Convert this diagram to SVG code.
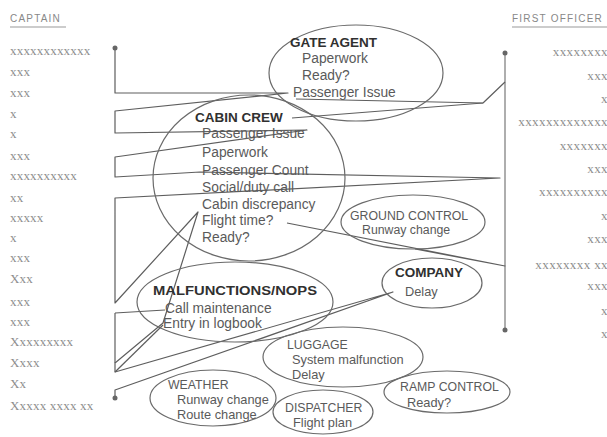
<svg xmlns="http://www.w3.org/2000/svg" width="607" height="437" viewBox="0 0 607 437">
<style>
.bg{fill:#fff}
.ell{fill:none;stroke:#6a6a6a;stroke-width:1.2}
.con{fill:none;stroke:#5e5e5e;stroke-width:1.2;stroke-linejoin:round}
.fo{fill:none;stroke:#9a9a9a;stroke-width:1.6}
.dot{fill:#666}
.hd{font-family:"Liberation Sans",Arial,sans-serif;font-weight:bold;font-size:13.5px;fill:#303030}
.hl{font-family:"Liberation Sans",Arial,sans-serif;font-size:12.3px;fill:#5a5a5a}
.it{font-family:"Liberation Sans",Arial,sans-serif;font-size:13.8px;fill:#5a5a5a}
.is{font-family:"Liberation Sans",Arial,sans-serif;font-size:12.8px;fill:#5a5a5a}
.col{font-family:"Liberation Sans",Arial,sans-serif;font-size:10px;letter-spacing:1.2px;fill:#888}
.xs{font-family:"Liberation Serif","Times New Roman",serif;font-size:13px;letter-spacing:0.2px;fill:#8e8e8e}
.xr{font-family:"Liberation Serif","Times New Roman",serif;font-size:13px;letter-spacing:0.4px;fill:#8e8e8e;text-anchor:end}
.ul{stroke:#999;stroke-width:1}
</style>
<rect class="bg" x="0" y="0" width="607" height="437"/>

<g id="captain-column">
<text class="col" x="10" y="22">CAPTAIN</text>
<line class="ul" x1="10" y1="27" x2="66" y2="27"/>
<text class="xs" x="10" y="55">xxxxxxxxxxxx</text>
<text class="xs" x="10" y="76">xxx</text>
<text class="xs" x="10" y="97">xxx</text>
<text class="xs" x="10" y="118">x</text>
<text class="xs" x="10" y="138">x</text>
<text class="xs" x="10" y="160">xxx</text>
<text class="xs" x="10" y="180">xxxxxxxxxx</text>
<text class="xs" x="10" y="202">xx</text>
<text class="xs" x="10" y="222">xxxxx</text>
<text class="xs" x="10" y="242">x</text>
<text class="xs" x="10" y="262">xxx</text>
<text class="xs" x="10" y="283">Xxx</text>
<text class="xs" x="10" y="306">xxx</text>
<text class="xs" x="10" y="326">xxx</text>
<text class="xs" x="10" y="346">Xxxxxxxxx</text>
<text class="xs" x="10" y="367">Xxxx</text>
<text class="xs" x="10" y="388">Xx</text>
<text class="xs" x="10" y="410">Xxxxx xxxx xx</text>
</g>

<g id="first-officer-column">
<text class="col" x="512" y="22">FIRST OFFICER</text>
<line class="ul" x1="512" y1="27" x2="607" y2="27"/>
<text class="xr" x="608" y="56">xxxxxxxx</text>
<text class="xr" x="608" y="80">xxx</text>
<text class="xr" x="608" y="103">x</text>
<text class="xr" x="608" y="126">xxxxxxxxxxxxx</text>
<text class="xr" x="608" y="150">xxxxxxx</text>
<text class="xr" x="608" y="173">xxx</text>
<text class="xr" x="608" y="196">xxxxxxxxxx</text>
<text class="xr" x="608" y="220">x</text>
<text class="xr" x="608" y="243">xxx</text>
<text class="xr" x="608" y="269">xxxxxxxx  xx</text>
<text class="xr" x="608" y="290">xxx</text>
<text class="xr" x="608" y="315">x</text>
<text class="xr" x="608" y="338">x</text>
</g>

<g id="connectors">
<path class="con" d="M115,48 V93 H288 L115,111 V133 L307,130 L115,157 V177 L200,172 L500,178 L115,198 V303 L198,212 L163,323 L115,363 V372 L393,292 L115,390 V398"/>
<path class="con" d="M115,313 L165,310"/>
<path class="con" d="M115,313 V363"/>
<path class="con" d="M163,325 L115,372"/>
<path class="fo" d="M505,53 V330"/>
<path class="con" d="M505,82 L483,103 L292,118"/>
<path class="con" d="M483,103 L296,99"/>
<path class="con" d="M287,223 L505,266 L415,249"/>
<circle class="dot" cx="115" cy="48" r="2.5"/>
<circle class="dot" cx="115" cy="398" r="2.5"/>
<circle class="dot" cx="505" cy="53" r="2.5"/>
<circle class="dot" cx="505" cy="330" r="2.5"/>
</g>

<g id="gate-agent">
<ellipse class="ell" cx="356" cy="73" rx="87" ry="48"/>
<text class="hd" x="290" y="47">GATE AGENT</text>
<text class="it" x="302" y="63">Paperwork</text>
<text class="it" x="302" y="80">Ready?</text>
<text class="it" x="293" y="97">Passenger Issue</text>
</g>

<g id="cabin-crew">
<ellipse class="ell" cx="249" cy="178" rx="96" ry="83"/>
<text class="hd" x="195" y="122">CABIN CREW</text>
<text class="it" x="202" y="138">Passenger Issue</text>
<text class="it" x="202" y="157">Paperwork</text>
<text class="it" x="202" y="175">Passenger Count</text>
<text class="it" x="202" y="192">Social/duty call</text>
<text class="it" x="202" y="209">Cabin discrepancy</text>
<text class="it" x="202" y="225">Flight time?</text>
<text class="it" x="202" y="242">Ready?</text>
</g>

<g id="ground-control">
<ellipse class="ell" cx="413" cy="222" rx="72" ry="27"/>
<text class="hl" x="350" y="220">GROUND CONTROL</text>
<text class="hl" x="362" y="234">Runway change</text>
</g>

<g id="company">
<ellipse class="ell" cx="432" cy="283" rx="50" ry="25"/>
<text class="hd" x="395" y="277">COMPANY</text>
<text class="is" x="405" y="296">Delay</text>
</g>

<g id="malfunctions">
<ellipse class="ell" cx="235" cy="302" rx="98" ry="40"/>
<text class="hd" x="153" y="295" textLength="164" lengthAdjust="spacingAndGlyphs">MALFUNCTIONS/NOPS</text>
<text class="it" x="165" y="313">Call maintenance</text>
<text class="it" x="163" y="328">Entry in logbook</text>
</g>

<g id="luggage">
<ellipse class="ell" cx="343" cy="357" rx="80" ry="30"/>
<text class="hl" x="287" y="349">LUGGAGE</text>
<text class="is" x="292" y="364">System malfunction</text>
<text class="is" x="292" y="379">Delay</text>
</g>

<g id="weather">
<ellipse class="ell" cx="213" cy="398" rx="63" ry="28"/>
<text class="hl" x="168" y="389">WEATHER</text>
<text class="is" x="177" y="404">Runway change</text>
<text class="is" x="177" y="419">Route change</text>
</g>

<g id="dispatcher">
<ellipse class="ell" cx="323" cy="412" rx="50" ry="22"/>
<text class="hl" x="285" y="412">DISPATCHER</text>
<text class="is" x="293" y="427">Flight plan</text>
</g>

<g id="ramp-control">
<ellipse class="ell" cx="447" cy="392" rx="63" ry="21"/>
<text class="hl" x="400" y="391">RAMP CONTROL</text>
<text class="is" x="407" y="407">Ready?</text>
</g>
</svg>
